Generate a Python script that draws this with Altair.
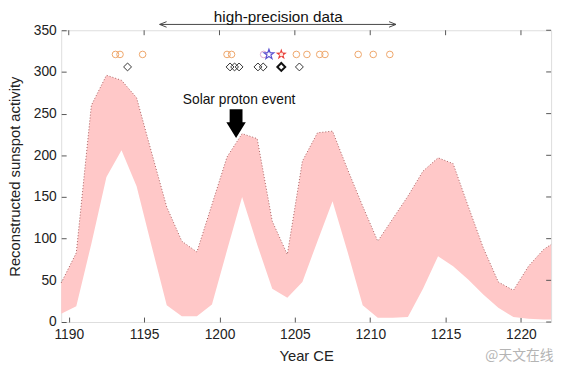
import altair as alt
import pandas as pd

# ---- data ----
years = [1189.5, 1190.5, 1191.5, 1192.5, 1193.5, 1194.5, 1195.5, 1196.5, 1197.5, 1198.5,
         1199.5, 1200.5, 1201.5, 1202.5, 1203.5, 1204.5, 1205.5, 1206.5, 1207.5, 1208.5,
         1209.5, 1210.5, 1211.5, 1212.5, 1213.5, 1214.5, 1215.5, 1216.5, 1217.5, 1218.5,
         1219.5, 1220.5, 1221.5, 1222.0]
upper = [47, 83, 260, 296, 290, 269, 203, 138, 97, 84,
         141, 198, 226, 220, 121, 81, 193, 227, 229, 183,
         139, 97, 124, 151, 181, 197, 190, 139, 89, 48,
         38, 67, 87, 93]
lower = [10, 19, 94, 174, 206, 163, 91, 20, 7, 7,
         21, 86, 150, 93, 40, 29, 48, 97, 145, 84,
         20, 5, 5, 6, 40, 79, 67, 51, 33, 17,
         6, 4, 3, 3]

circle_years = [1193.1, 1193.4, 1194.9, 1200.5, 1200.8, 1205.1, 1205.8, 1206.65, 1207.0,
                1209.2, 1210.2, 1211.3]
circle_level = 321
pink_circle_years = [1202.93]
diamond_years = [1193.9, 1200.7, 1201.0, 1201.3, 1202.55, 1202.9, 1205.3]
bold_diamond_years = [1204.1]
diamond_level = 306
blue_star_years = [1203.28]
red_star_years = [1204.1]

range_label = "high-precision data"
range_start, range_end = 1196.03, 1211.71
range_level = 357
range_text_year, range_text_level = 1203.9, 360
event_label = "Solar proton event"
event_text_year, event_text_level = 1201.3, 261
event_arrow_year, event_arrow_level = 1201.1, 238
watermark = "@天文在线"

x_ticks = [1190, 1195, 1200, 1205, 1210, 1215, 1220]
y_ticks = [0, 50, 100, 150, 200, 250, 300, 350]

FONT = "Liberation Sans"
W, H = 497, 296
STAR = ("M0,-1L0.235,-0.324L0.951,-0.309L0.38,0.124L0.588,0.809L0,0.4L-0.588,0.809"
        "L-0.38,0.124L-0.951,-0.309L-0.235,-0.324Z")
band = pd.DataFrame({"year": years, "upper": upper, "lower": lower})

xs = alt.Scale(domain=[1189.5, 1222], nice=False, zero=False)
ys = alt.Scale(domain=[0, 350], nice=False, zero=True)

axis_common = dict(domain=False, grid=False, tickSize=5, offset=-5, tickColor="#555",
                   tickWidth=1, labelFont=FONT, labelFontSize=14, labelColor="#222",
                   titleFont=FONT, titleFontSize=15, titleColor="#222", titleFontWeight="normal")
xax = alt.Axis(values=x_ticks, format="d", labelPadding=6, titlePadding=7, **axis_common)
yax = alt.Axis(values=y_ticks, labelPadding=5, titlePadding=11, **axis_common)
XT, YT = "Year CE", "Reconstructed sunspot activity"

X = lambda f: alt.X(f, type="quantitative", scale=xs, axis=xax, title=XT)
Y = lambda f: alt.Y(f, type="quantitative", scale=ys, axis=yax, title=YT)

area = alt.Chart(band).mark_area(color="#ffc8c8", opacity=1).encode(
    x=X("year"), y=Y("upper"), y2="lower:Q")

edge = alt.Chart(band).mark_line(color="#a86060", strokeWidth=1, strokeDash=[1, 2]).encode(
    x=X("year"), y=Y("upper"))

# inward ticks on the top and right sides of the box
top_ticks = alt.Chart(pd.DataFrame({"t": x_ticks})).mark_rule(color="#555", strokeWidth=1).encode(
    x=X("t"), y=alt.value(0), y2=alt.value(5))
right_ticks = alt.Chart(pd.DataFrame({"t": y_ticks})).mark_rule(color="#555", strokeWidth=1).encode(
    y=Y("t"), x=alt.value(W - 5), x2=alt.value(W))

def pts(yrs, level, **kw):
    df = pd.DataFrame({"year": yrs, "v": [level] * len(yrs)})
    return alt.Chart(df).mark_point(**kw).encode(x=X("year"), y=Y("v"))

circles = pts(circle_years, circle_level, shape="circle", size=45, filled=False,
              color="#eea66a", strokeWidth=1, opacity=1)
pink_c = pts(pink_circle_years, circle_level, shape="circle", size=45, filled=False,
             color="#dca6cf", strokeWidth=1, opacity=1)
diamonds = pts(diamond_years, diamond_level, shape="diamond", size=64, filled=False,
               color="#333", strokeWidth=1, opacity=1)
bold_d = pts(bold_diamond_years, diamond_level, shape="diamond", size=64, filled=False,
             color="#111", strokeWidth=2, opacity=1)
blue_star = pts(blue_star_years, circle_level, shape=STAR, size=110, filled=False,
                color="#5a4fd0", strokeWidth=1.2, opacity=1)
red_star = pts(red_star_years, circle_level, shape=STAR, size=140, filled=True,
               color="#e8403a", opacity=1)
red_dot = pts(red_star_years, circle_level, shape="circle", size=14, filled=True,
              color="#ffe6dc", opacity=1)

rng = pd.DataFrame({"a": [range_start], "b": [range_end], "v": [range_level]})
range_line = alt.Chart(rng).mark_rule(color="#444", strokeWidth=1).encode(
    x=X("a"), x2="b:Q", y=Y("v"))
left_head = pts([range_start + 0.23], range_level, shape="M1,-0.8L-1,0L1,0.8", size=49,
                filled=False, color="#444", strokeWidth=1, opacity=1)
right_head = pts([range_end - 0.23], range_level, shape="M-1,-0.8L1,0L-1,0.8", size=49,
                 filled=False, color="#444", strokeWidth=1, opacity=1)

def label(txt, yr, lv, size, color="#111", font=FONT):
    df = pd.DataFrame({"year": [yr], "v": [lv], "t": [txt]})
    return alt.Chart(df).mark_text(font=font, fontSize=size, color=color, align="center",
                                   baseline="alphabetic").encode(x=X("year"), y=Y("v"), text="t:N")

range_text = label(range_label, range_text_year, range_text_level, 15.5)
event_text = label(event_label, event_text_year, event_text_level, 14)
wm = label(watermark, 1219.9, -45, 14, color="#b4b4b4", font="Noto Sans CJK SC")

arrow = pts([event_arrow_year], event_arrow_level,
            shape="M-0.45,-1L0.45,-1L0.45,-0.1L0.68,-0.1L0,1L-0.68,-0.1L-0.45,-0.1Z",
            size=841, filled=True, color="#000", opacity=1)

chart = alt.layer(
    area, edge, top_ticks, right_ticks, circles, pink_c, diamonds, bold_d, blue_star, red_star,
    red_dot, range_line, left_head, right_head, range_text, event_text, arrow, wm,
).properties(
    width=W, height=H,
    autosize=alt.AutoSizeParams(type="none"),
    padding={"left": 54, "top": 20, "right": 7, "bottom": 40},
).configure_view(stroke="#555", strokeWidth=1).configure(background="white")

chart.save("out.html", embed_options={"renderer": "svg", "actions": False})
